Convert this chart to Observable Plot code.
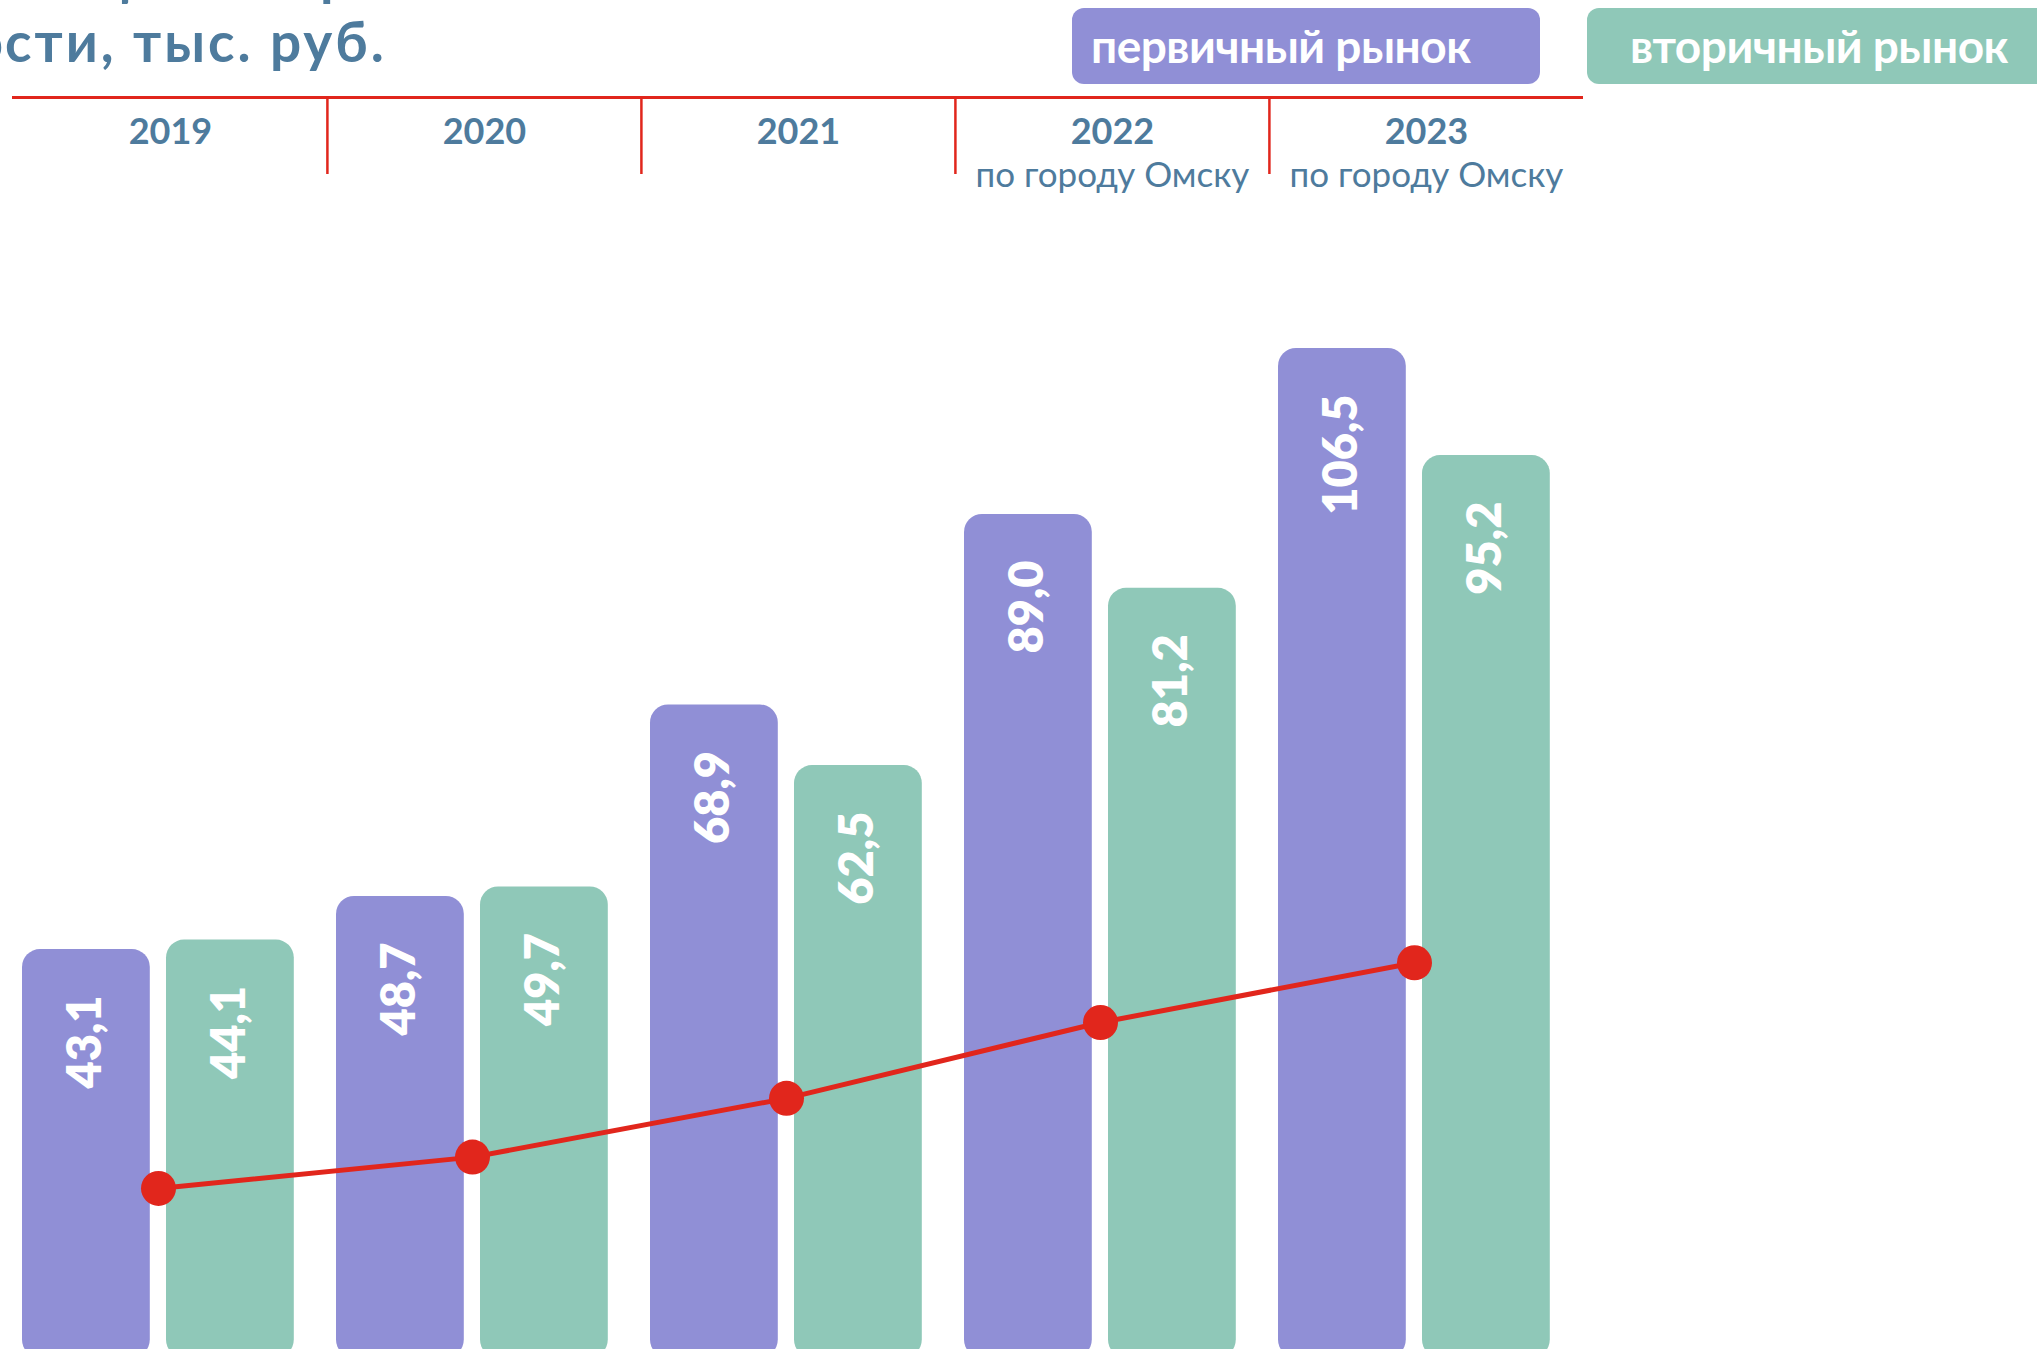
<!DOCTYPE html>
<html lang="ru">
<head>
<meta charset="utf-8">
<script src="https://cdn.jsdelivr.net/npm/d3@7"></script>
<script src="https://cdn.jsdelivr.net/npm/@observablehq/plot@0.6"></script>
<style>
  html, body { margin: 0; padding: 0; background: #fff; overflow: hidden; }
  body { width: 2037px; height: 1349px; position: relative; font-family: Lato, "Noto Sans", sans-serif; }
  #top { position: relative; height: 95px; width: 2037px; overflow: hidden; }
  .tline { position: absolute; white-space: nowrap; color: #4e7b9d; font-weight: 700; font-size: 55px; line-height: 55px; letter-spacing: 3px; }
  .t1 { top: -52.8px; letter-spacing: 0.5px; }
  .t2 { top: 14px; }
  .lg { position: absolute; top: 8px; height: 76px; line-height: 76px; border-radius: 12px; color: #fff; font-weight: 700; font-size: 46px; white-space: nowrap; letter-spacing: -0.5px; }
  svg { overflow: hidden; display: block; }
</style>
</head>
<body>
<div id="top">
  <div class="tline t1" style="right:1942px;">Изменение </div>
  <div class="tline t1" style="left:95px;">цены на рынке жилой</div>
  <div class="tline t2" style="right:2031px;">недвижимо</div>
  <div class="tline t2" style="left:5px;">сти, тыс. руб.</div>
  <div class="lg" id="lg1" style="left:1072px; width:449px; padding-left:19px; background:#908fd6;"></div>
  <div class="lg" id="lg2" style="left:1587px; width:500px; padding-left:43px; background:#8fc8b8;"></div>
</div>
<div id="header"></div>
<div id="chart"></div>
<script>
// ---- data ----
const years = ["2019", "2020", "2021", "2022", "2023"];
const notes = ["", "", "", "по городу Омску", "по городу Омску"];
const primary = [43.1, 48.7, 68.9, 89.0, 106.5];     // первичный рынок
const secondary = [44.1, 49.7, 62.5, 81.2, 95.2];    // вторичный рынок
const lineValues = [17.9, 21.2, 27.4, 35.4, 41.7];   // красная линия (без подписей)
const seriesNames = ["первичный рынок", "вторичный рынок"];

// ---- styling ----
const PURPLE = "#908fd6", GREEN = "#8fc8b8", RED = "#e1261c", BLUE = "#4e7b9d";
const W = 2037, ML = 12, MR = 454;
const band = (W - ML - MR) / years.length;
const fmt = v => d3.format(".1f")(v).replace(".", ",");

document.getElementById("lg1").textContent = seriesNames[0];
document.getElementById("lg2").textContent = seriesNames[1];

const rows = years.map((y, i) => ({year: y, note: notes[i], primary: primary[i], secondary: secondary[i], line: lineValues[i]}));

// header (years)
const header = Plot.plot({
  width: W, height: 105,
  marginLeft: ML, marginRight: MR, marginTop: 0, marginBottom: 0,
  style: {fontFamily: "Lato, sans-serif", background: "white"},
  x: {type: "band", domain: years, padding: 0, axis: null},
  y: {domain: [0, 1], range: [79, 2], axis: null},
  marks: [
    Plot.ruleY([1], {stroke: RED, strokeWidth: 3}),
    Plot.ruleX(rows.slice(1), {x: "year", y1: 0, y2: 1, dx: -band / 2, stroke: RED, strokeWidth: 2.5}),
    Plot.text(rows, {x: "year", text: "year", frameAnchor: "top", lineAnchor: "bottom", dy: 48,
      fontSize: 36, fontWeight: 700, fill: BLUE}),
    Plot.text(rows, {x: "year", text: "note", frameAnchor: "top", lineAnchor: "bottom", dy: 91,
      fontSize: 35, fontWeight: 400, fill: BLUE})
  ]
});
document.getElementById("header").append(header);

// chart
const off = -12; // group centre relative to band centre
const chart = Plot.plot({
  width: W, height: 1149,
  marginLeft: ML, marginRight: MR, marginTop: 0, marginBottom: 0,
  style: {fontFamily: "Lato, sans-serif", background: "white"},
  x: {type: "band", domain: years, padding: 0, axis: null},
  y: {domain: [0, 100], range: [1157.6, 209.6], axis: null},
  marks: [
    Plot.barY(rows, {x: "year", y: "primary", fill: PURPLE, insetLeft: 9, insetRight: band - 9 - 128, rx: 18}),
    Plot.barY(rows, {x: "year", y: "secondary", fill: GREEN, insetLeft: 153, insetRight: band - 153 - 128, rx: 18}),
    Plot.text(rows, {x: "year", y: "primary", text: d => fmt(d.primary), rotate: -90, textAnchor: "end", lineAnchor: "middle",
      dx: 9 + 64 - band / 2, dy: 46, fill: "white", fontSize: 47, fontWeight: 800}),
    Plot.text(rows, {x: "year", y: "secondary", text: d => fmt(d.secondary), rotate: -90, textAnchor: "end", lineAnchor: "middle",
      dx: 153 + 64 - band / 2, dy: 46, fill: "white", fontSize: 47, fontWeight: 800}),
    Plot.line(rows, {x: "year", y: "line", stroke: RED, strokeWidth: 5, dx: off}),
    Plot.dot(rows, {x: "year", y: "line", r: 17.5, fill: RED, stroke: null, dx: off})
  ]
});
document.getElementById("chart").append(chart);
</script>
</body>
</html>
